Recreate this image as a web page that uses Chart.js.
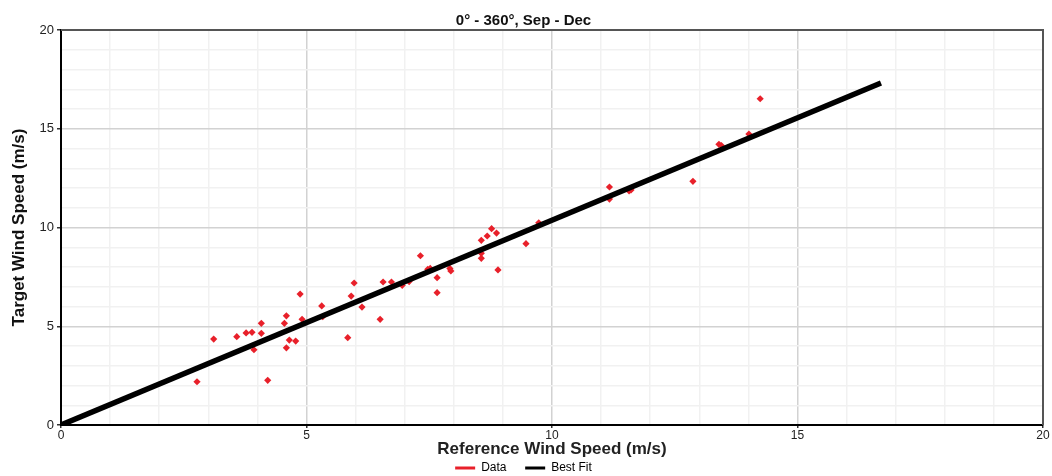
<!DOCTYPE html>
<html lang="en">
<head>
<meta charset="UTF-8">
<title>Wind Speed Correlation</title>
<script src="https://cdn.jsdelivr.net/npm/chart.js"></script>
<style>
    body { margin: 0; background: #fff; }
    .chart-box { width: 1052px; height: 476px; }
</style>
</head>
<body>
<div class="chart-box"><canvas id="scatterChart"></canvas></div>
<script>
    // reference wind speed (m/s) and target wind speed (m/s)
    const refSpeed = [2.77, 3.11, 3.58, 3.77, 3.89, 4.08, 4.08, 3.93, 4.21, 4.59, 4.55, 4.59, 4.65, 4.78,
        4.87, 4.91, 5.31, 5.33, 5.84, 5.91, 5.97, 6.13, 6.50, 6.56, 6.73, 6.95, 7.09, 7.32, 7.47, 7.52,
        7.66, 7.66, 7.92, 7.94, 8.56, 8.56, 8.56, 8.68, 8.77, 8.87, 8.90, 9.47, 9.73, 11.17, 11.17,
        11.57, 11.61, 12.87, 13.40, 13.45, 14.01, 14.24];
    const targetSpeed = [2.19, 4.35, 4.47, 4.66, 4.69, 5.15, 4.64, 3.81, 2.26, 5.53, 5.15, 3.91, 4.30, 4.25,
        6.63, 5.35, 6.03, 5.48, 4.42, 6.53, 7.19, 5.97, 5.35, 7.24, 7.24, 7.07, 7.26, 8.57, 7.88, 7.93,
        7.46, 6.70, 7.93, 7.80, 9.35, 8.69, 8.44, 9.57, 9.94, 9.72, 7.85, 9.18, 10.24, 12.05, 11.44,
        11.85, 11.90, 12.34, 14.21, 14.15, 14.73, 16.52];
    const fitX = [0, 16.7];
    const fitY = [0, 17.32];
    const axisTicks = [0, 5, 10, 15, 20];

    const narrow = '"Liberation Sans Narrow", "Arial Narrow", Arial, sans-serif';

    const frame = {
        id: 'frame',
        afterDatasetsDraw(chart) {
            const a = chart.chartArea;
            const ctx = chart.ctx;
            ctx.save();
            ctx.strokeStyle = '#555';
            ctx.lineWidth = 2;
            ctx.beginPath();
            ctx.moveTo(a.left, a.top);
            ctx.lineTo(a.right, a.top);
            ctx.lineTo(a.right, a.bottom);
            ctx.stroke();
            ctx.restore();
        }
    };

    const gridColor = c => (c.tick && c.tick.value % 5 === 0) ? '#d2d2d2' : '#f1f1f1';
    const tickColor = c => (c.tick && c.tick.value % 5 === 0) ? '#333' : 'rgba(0,0,0,0)';
    const tickLabel = v => axisTicks.includes(v) ? String(v) : '';

    const chart = new Chart(document.getElementById('scatterChart'), {
        type: 'scatter',
        data: {
            datasets: [{
                label: 'Data',
                data: refSpeed.map((x, i) => ({ x: x, y: targetSpeed[i] })),
                backgroundColor: '#e8202a',
                borderColor: '#e8202a',
                pointStyle: 'rectRot',
                pointRadius: 3.6,
                borderWidth: 0,
                order: 2
            }, {
                label: 'Best Fit',
                type: 'line',
                data: fitX.map((x, i) => ({ x: x, y: fitY[i] })),
                borderColor: '#000',
                backgroundColor: '#000',
                borderWidth: 5.5,
                pointRadius: 0,
                order: 1
            }]
        },
        options: {
            responsive: true,
            maintainAspectRatio: false,
            animation: false,
            layout: { padding: { left: 4, right: 9, top: 0, bottom: 0 } },
            plugins: {
                title: {
                    display: true,
                    text: '0° - 360°, Sep - Dec',
                    color: '#111',
                    font: { family: 'Arial, sans-serif', size: 15, weight: 'bold' },
                    padding: { top: 12, bottom: 0 }
                },
                legend: {
                    position: 'bottom',
                    labels: {
                        color: '#222',
                        font: { family: narrow, size: 12 },
                        boxWidth: 20,
                        boxHeight: 3,
                        padding: 2,
                        generateLabels: chart => chart.data.datasets.map((d, i) => ({
                            text: d.label + (i === 0 ? '     ' : ''),
                            fillStyle: d.borderColor,
                            strokeStyle: d.borderColor,
                            lineWidth: 0,
                            datasetIndex: i
                        }))
                    }
                },
                tooltip: { enabled: false }
            },
            scales: {
                x: {
                    type: 'linear',
                    min: 0,
                    max: 20,
                    afterFit: s => { s.height = 35; },
                    ticks: {
                        stepSize: 1,
                        autoSkip: false,
                        maxRotation: 0,
                        padding: 0,
                        color: '#222',
                        font: { family: narrow, size: 12 },
                        callback: tickLabel
                    },
                    grid: { color: gridColor, tickColor: tickColor, tickLength: 3, lineWidth: 1.5 },
                    border: { color: '#000', width: 2 },
                    title: {
                        display: true,
                        text: 'Reference Wind Speed (m/s)',
                        color: '#222',
                        font: { family: narrow, size: 17, weight: 'bold' },
                        padding: { top: 0, bottom: 0 }
                    }
                },
                y: {
                    type: 'linear',
                    min: 0,
                    max: 20,
                    afterFit: s => { s.width = 57; },
                    ticks: {
                        stepSize: 1,
                        autoSkip: false,
                        padding: 3,
                        color: '#222',
                        font: { family: 'Arial, sans-serif', size: 13 },
                        callback: tickLabel
                    },
                    grid: { color: gridColor, tickColor: tickColor, tickLength: 4, lineWidth: 1.5 },
                    border: { color: '#000', width: 2 },
                    title: {
                        display: true,
                        text: 'Target Wind Speed (m/s)',
                        color: '#111',
                        font: { family: narrow, size: 17, weight: 'bold' },
                        padding: { top: 5, bottom: 0 }
                    }
                }
            }
        },
        plugins: [frame]
    });

    // squeeze the legend row so the plot reaches down like the original
    const legendFit = chart.legend.fit;
    chart.legend.fit = function () {
        legendFit.call(this);
        this.height = 16;
    };
    chart.update();
</script>
</body>
</html>
